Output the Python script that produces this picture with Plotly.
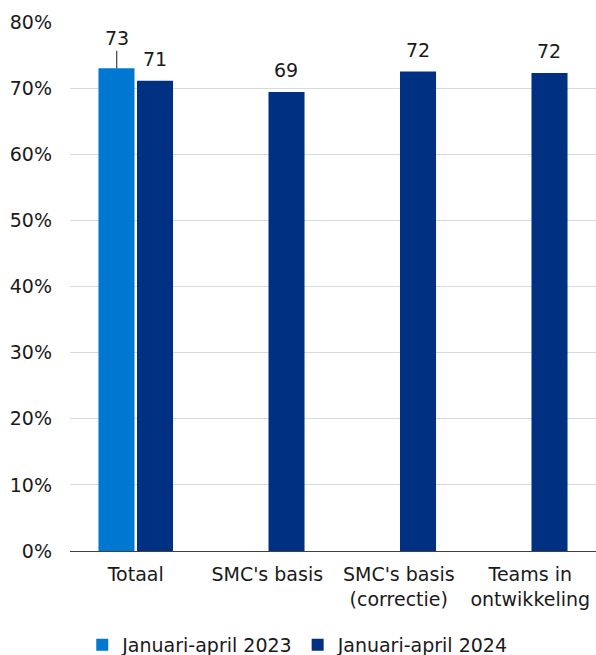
"""
Grouped bar chart: share per category, January-April 2023 vs 2024.
"""

import plotly.graph_objects as go

# Data
categories = ['Totaal', "SMC's basis", "SMC's basis<br>(correctie)", 'Teams in<br>ontwikkeling']
series_names = ['Januari-april 2023', 'Januari-april 2024']
values_2023 = [73.0, None, None, None]
values_2024 = [71.1, 69.4, 72.5, 72.3]
y_ticks = [0, 10, 20, 30, 40, 50, 60, 70, 80]
y_tick_labels = [f'{t}%' for t in y_ticks]

FONT = 'DejaVu Sans, Verdana, sans-serif'
FONT_SIZE = 19
COLOR_2023 = '#0078D2'
COLOR_2024 = '#003082'
TEXT_COLOR = '#1a1a1a'

fig = go.Figure()

fig.add_trace(
    go.Bar(
        x=categories,
        y=values_2023,
        name=series_names[0],
        marker=dict(color=COLOR_2023, line=dict(width=0)),
    )
)
fig.add_trace(
    go.Bar(
        x=categories,
        y=values_2024,
        name=series_names[1],
        marker=dict(color=COLOR_2024, line=dict(width=0)),
    )
)

# Value labels above the bars
offset = 19
for values, shift in [(values_2023, -offset), (values_2024, offset)]:
    for cat, v in zip(categories, values):
        if v is None:
            continue
        if shift < 0:
            # 2023 label lifted with a short leader line
            fig.add_annotation(
                x=cat, y=v, xshift=shift,
                text=f'{v:.0f}',
                showarrow=True, arrowhead=0, arrowwidth=1, arrowcolor=TEXT_COLOR,
                ax=0, ay=-30, standoff=0,
                font=dict(size=FONT_SIZE, family=FONT, color=TEXT_COLOR),
            )
        else:
            fig.add_annotation(
                x=cat, y=v, xshift=shift, yshift=22,
                text=f'{v:.0f}',
                showarrow=False,
                font=dict(size=FONT_SIZE, family=FONT, color=TEXT_COLOR),
            )

fig.update_layout(
    width=596,
    height=655,
    barmode='group',
    bargap=0.414,
    bargroupgap=0.065,
    plot_bgcolor='white',
    paper_bgcolor='white',
    font=dict(family=FONT, size=FONT_SIZE, color=TEXT_COLOR),
    margin=dict(l=70, r=0, t=22, b=104),
    xaxis=dict(
        showline=True,
        linecolor='#404040',
        linewidth=1,
        ticks='',
        automargin=False,
        ticklabelstandoff=6,
        tickfont=dict(size=FONT_SIZE, family=FONT, color=TEXT_COLOR),
    ),
    yaxis=dict(
        range=[0, 80],
        tickvals=y_ticks,
        ticktext=y_tick_labels,
        showgrid=True,
        gridcolor='#d9d9d9',
        gridwidth=1,
        zeroline=False,
        showline=False,
        automargin=False,
        ticklabelstandoff=17,
        tickfont=dict(size=FONT_SIZE, family=FONT, color=TEXT_COLOR),
    ),
    legend=dict(
        orientation='h',
        x=0.433,
        xanchor='center',
        yref='container',
        y=0.0153,
        yanchor='middle',
        font=dict(size=FONT_SIZE, family=FONT, color=TEXT_COLOR),
        itemwidth=30,
    ),
)

fig.write_html(
    'out.html',
    config={'displayModeBar': False},
    post_script="document.body.style.margin='0';document.body.style.overflow='hidden';",
)
